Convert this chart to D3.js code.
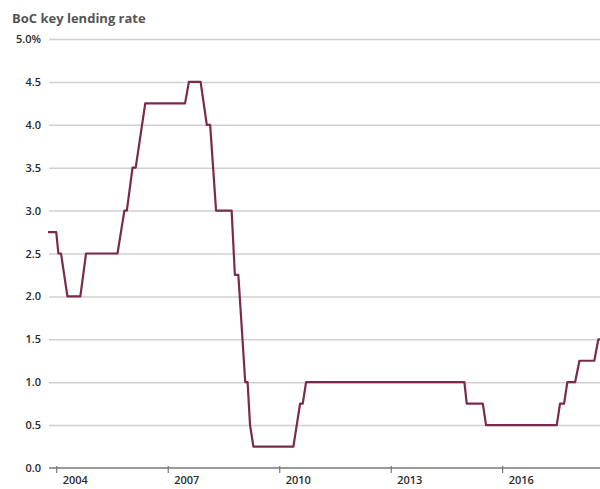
<!DOCTYPE html>
<html><head><meta charset="utf-8">
<script src="https://cdn.jsdelivr.net/npm/d3@7"></script>
<style>body{margin:0;background:#fff}svg{display:block}</style>
</head><body>
<svg id="c" width="600" height="489"></svg>
<script>
const title = "BoC key lending rate";
const dates = ["2003-10-12","2004-01-01","2004-01-22","2004-02-17","2004-04-20","2004-08-25","2004-10-20","2005-08-25","2005-11-01","2005-11-25","2006-01-20","2006-02-20","2006-05-25","2007-06-20","2007-07-28","2007-11-20","2008-01-20","2008-02-22","2008-04-20","2008-09-20","2008-10-22","2008-11-25","2009-02-01","2009-02-24","2009-03-20","2009-04-22","2010-05-20","2010-07-25","2010-08-20","2010-09-22","2014-12-26","2015-01-18","2015-06-25","2015-07-27","2017-06-21","2017-07-23","2017-09-01","2017-10-03","2017-12-18","2018-01-30","2018-06-25","2018-08-04","2018-08-20"];
const rates = [2.75,2.75,2.5,2.5,2.0,2.0,2.5,2.5,3.0,3.0,3.5,3.5,4.25,4.25,4.5,4.5,4.0,4.0,3.0,3.0,2.25,2.25,1.0,1.0,0.5,0.25,0.25,0.75,0.75,1.0,1.0,0.75,0.75,0.5,0.5,0.75,0.75,1.0,1.0,1.25,1.25,1.5,1.5];
const yTicks = [0,0.5,1.0,1.5,2.0,2.5,3.0,3.5,4.0,4.5,5.0];
const yTickLabels = ["0.0","0.5","1.0","1.5","2.0","2.5","3.0","3.5","4.0","4.5","5.0%"];
const xTickYears = ["2004","2007","2010","2013","2016"];

const parse = d3.timeParse("%Y-%m-%d");
const data = dates.map((d,i)=>({date:parse(d), v:rates[i]}));
const svg = d3.select("#c");
const mLeft = 48, mRight = 600, mTop = 39, mBottom = 468;
const x = d3.scaleTime().domain([parse("2003-10-12"), parse("2018-08-20")]).range([mLeft, mRight]);
const y = d3.scaleLinear().domain([0,5]).range([mBottom, mTop]);
const font = "'Open Sans', 'Noto Sans', sans-serif";

svg.append("text").attr("x",12).attr("y",23).text(title)
  .attr("font-family",font).attr("font-weight","bold").attr("font-size",13).attr("fill","#555");

const yAxis = d3.axisLeft(y).tickValues(yTicks).tickFormat((d,i)=>yTickLabels[i]).tickSize(-(mRight-mLeft)).tickPadding(8);
const gy = svg.append("g").attr("transform",`translate(${mLeft},0)`).call(yAxis);
gy.select(".domain").remove();
gy.selectAll(".tick line").attr("stroke","#d0d0d0").attr("stroke-width",1.5).attr("x1",1);
gy.selectAll(".tick text").attr("font-family",font).attr("font-size",11).attr("font-weight",600).attr("fill","#2a2a2a").attr("x",-7);
gy.selectAll(".tick").filter(d=>d===0).select("line").remove();

const xAxis = d3.axisBottom(x).tickValues(xTickYears.map(s=>parse(s+"-01-01"))).tickFormat(d3.timeFormat("%Y")).tickSize(5).tickPadding(3);
const gx = svg.append("g").attr("transform",`translate(0,${mBottom})`).call(xAxis);
gx.select(".domain").attr("stroke","#777").attr("stroke-width",1.5).attr("d",`M${mLeft+1},0H${mRight}`);
gx.selectAll(".tick line").attr("stroke","#777").attr("stroke-width",1.2).attr("y1",-2);
gx.selectAll(".tick text").attr("font-family",font).attr("font-size",11).attr("font-weight",600).attr("fill","#2a2a2a").attr("text-anchor","start").attr("x",6);

const line = d3.line().x(d=>x(d.date)).y(d=>y(d.v));
svg.append("path").datum(data).attr("d",line).attr("fill","none")
  .attr("stroke","#7a2a4c").attr("stroke-width",2.2).attr("stroke-linejoin","round");
</script>
</body></html>
